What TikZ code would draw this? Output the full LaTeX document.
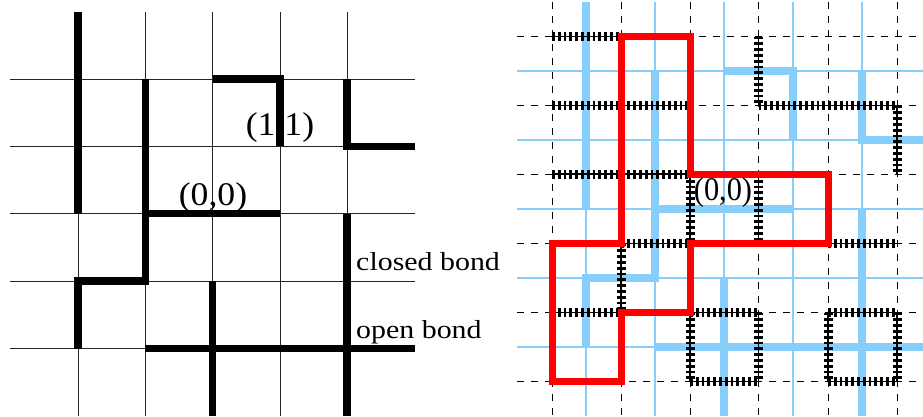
\documentclass[tikz,border=0pt]{standalone}
\usepackage{fontspec}
\setmainfont{Liberation Serif}
\definecolor{skyb}{RGB}{135,206,250}
\definecolor{bondred}{RGB}{255,0,0}
\tikzset{
  thingrid/.style={line width=1pt, draw=black!85},
  thickbond/.style={line width=7.5pt, draw=black, line join=miter},
  bluegrid/.style={line width=1.2pt, draw=skyb},
  dualgrid/.style={line width=1pt, draw=black, dash pattern=on 7pt off 7pt},
  bluebond/.style={line width=8.5pt, draw=skyb, line join=miter},
  dualbond/.style={line width=1.6pt, draw=black, preaction={draw=black, line width=9pt, dash pattern=on 2.8pt off 3pt}},
  redloop/.style={line width=7pt, draw=bondred, line join=miter},
  lbl/.style={inner sep=0pt, anchor=base, font=\fontsize{33}{36}\selectfont},
  small/.style={inner sep=0pt, anchor=base west, font=\fontsize{26}{30}\selectfont}
}
\begin{document}
\begin{tikzpicture}[x=1pt,y=-1pt]
\useasboundingbox (0,0) rectangle (923,416);
% ---------------- left panel ----------------
\foreach \x in {78,145.3,212.6,280,347} \draw[thingrid] (\x,12) -- (\x,416);
\foreach \y in {79,146.3,213.6,281,348.5} \draw[thingrid] (10,\y) -- (415,\y);
\node[lbl, xscale=1.08] (L11) at (280,135) {(1,1)};
\node[lbl, xscale=1.08] (L00) at (213,205) {(0,0)};
\node[small, xscale=1.15] (Lclosed) at (356,270) {closed bond};
\node[small, xscale=1.15] (Lopen) at (356,338) {open bond};
\draw[thickbond] (78,12) -- (78,213.6);
\draw[thickbond] (145.3,79) -- (145.3,281) -- (78,281) -- (78,348.5);
\draw[thickbond] (145.3,213.6) -- (280,213.6);
\draw[thickbond] (212.6,79) -- (280,79) -- (280,146.3);
\draw[thickbond] (347,79) -- (347,146.3) -- (415,146.3);
\draw[thickbond] (347,213.6) -- (347,416);
\draw[thickbond] (145.3,348.5) -- (415,348.5);
\draw[thickbond] (212.6,281) -- (212.6,416);
% ---------------- right panel ----------------
\foreach \x in {586,655,724,793,862} \draw[bluegrid] (\x,2) -- (\x,416);
\foreach \y in {71,140,209,278,347} \draw[bluegrid] (517,\y) -- (923,\y);
\foreach \x in {552,621,690,758.5,828,897} \draw[dualgrid] (\x,2) -- (\x,416);
\foreach \y in {36.5,105.5,174,243.5,312.5,381.5} \draw[dualgrid] (517,\y) -- (923,\y);
\draw[bluebond] (586,2) -- (586,209);
\draw[bluebond] (655,71) -- (655,278) -- (586,278) -- (586,347);
\draw[bluebond] (655,209) -- (793,209);
\draw[bluebond] (724,71) -- (793,71) -- (793,140);
\draw[bluebond] (862,71) -- (862,140) -- (923,140);
\draw[bluebond] (862,209) -- (862,416);
\draw[bluebond] (655,347) -- (923,347);
\draw[bluebond] (724,278) -- (724,416);
% dual bonds
\draw[dualbond] (552,36.5) -- (621,36.5);
\draw[dualbond] (552,105.5) -- (690,105.5);
\draw[dualbond] (758.5,105.5) -- (897,105.5);
\draw[dualbond] (758.5,36.5) -- (758.5,105.5);
\draw[dualbond] (897,105.5) -- (897,174);
\draw[dualbond] (552,174) -- (690,174);
\draw[dualbond] (690,174) -- (690,243.5);
\draw[dualbond] (758.5,174) -- (758.5,243.5);
\draw[dualbond] (621,243.5) -- (690,243.5);
\draw[dualbond] (828,243.5) -- (897,243.5);
\draw[dualbond] (621,243.5) -- (621,312.5);
\draw[dualbond] (552,312.5) -- (621,312.5);
\draw[dualbond] (690,312.5) -- (758.5,312.5);
\draw[dualbond] (828,312.5) -- (897,312.5);
\foreach \x in {690,758.5,828,897} \draw[dualbond] (\x,312.5) -- (\x,381.5);
\draw[dualbond] (690,381.5) -- (758.5,381.5);
\draw[dualbond] (828,381.5) -- (897,381.5);
% red loop
\draw[redloop] (621,36.5) -- (690,36.5) -- (690,174) -- (828,174) -- (828,243.5) -- (690,243.5) -- (690,312.5) -- (621,312.5) -- (621,381.5) -- (552,381.5) -- (552,243.5) -- (621,243.5) -- cycle;
\node[lbl, xscale=0.92] (R00) at (723,200) {(0,0)};
\end{tikzpicture}
\end{document}
